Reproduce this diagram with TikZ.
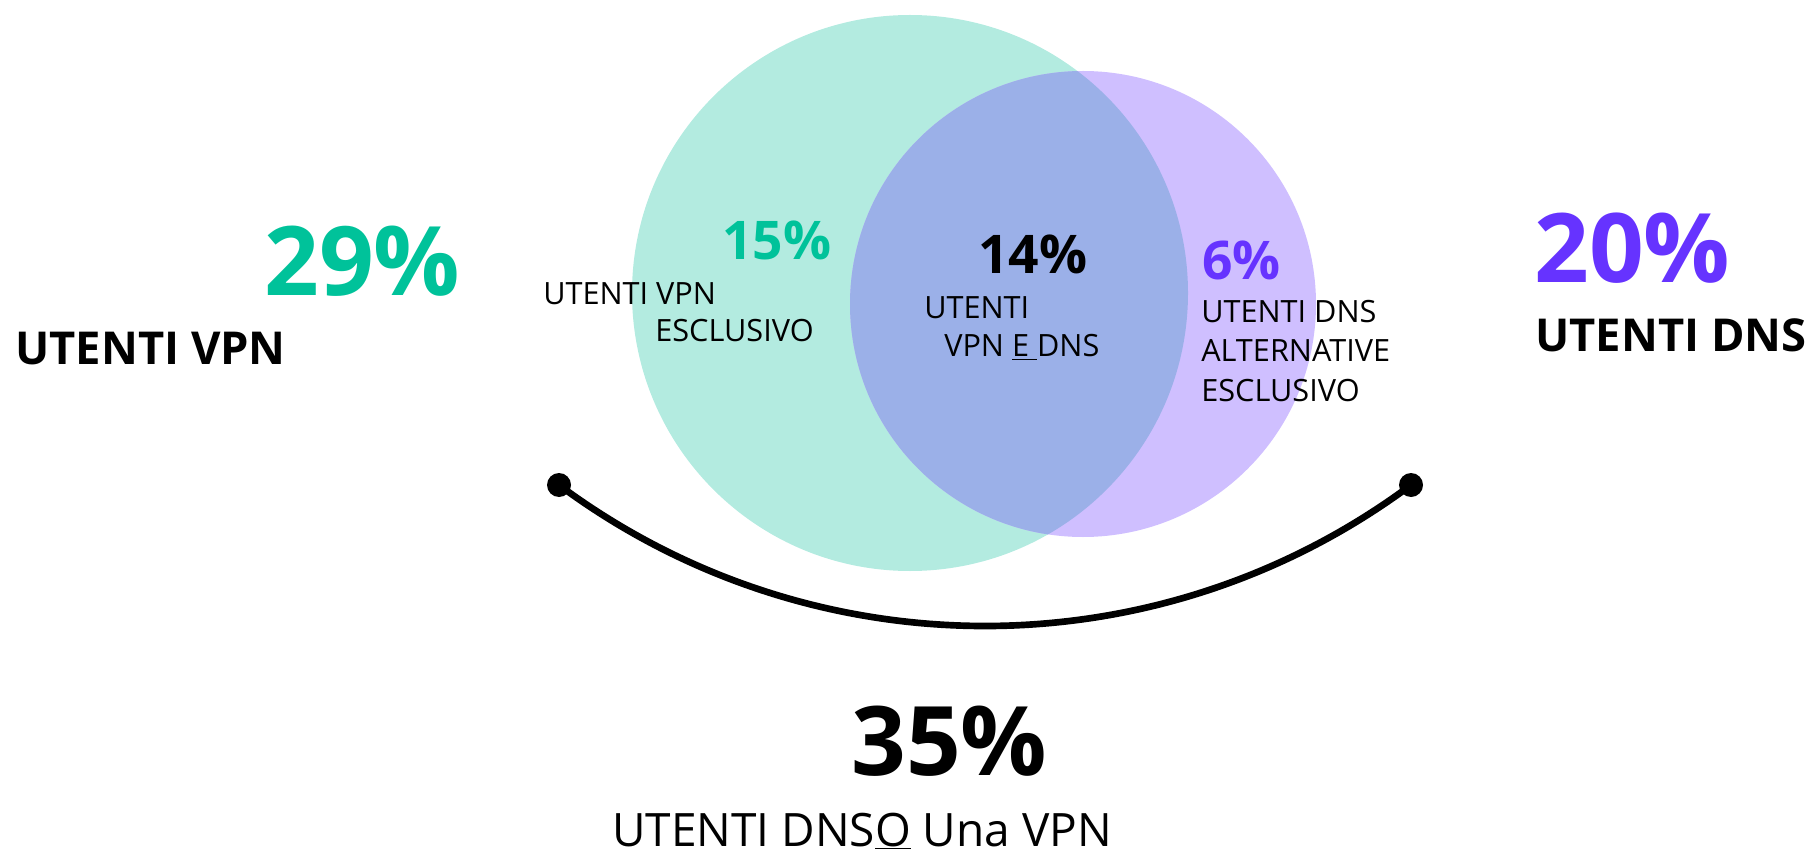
\documentclass[tikz,border=0pt]{standalone}
\usepackage{fontspec}
\setmainfont{Open Sans}
\usetikzlibrary{positioning}
\definecolor{vpngreen}{HTML}{00C29A}
\definecolor{dnspurple}{HTML}{6633FF}
\definecolor{vpnfill}{HTML}{B3EBE0}
\definecolor{dnsfill}{HTML}{CFBFFF}
\definecolor{bothfill}{HTML}{9BB0E8}

\begin{document}
\begin{tikzpicture} %
		[
			x=0.75pt, y=-0.75pt,
			every text node part/.style={align=left}, % lines of a block start flush left
			venn/.style={circle, inner sep=0, minimum size=#1},
			txt/.style={anchor=base west, inner sep=0},
			bignum/.style={txt, font={\fontsize{72}{80}\selectfont\bfseries}},
			bigcap/.style={txt, font={\fontsize{34}{40}\selectfont\bfseries}},
			midnum/.style={txt, font={\fontsize{40}{46}\selectfont\bfseries}},
			small/.style={txt, font={\fontsize{23}{#1}\selectfont}},
			small/.default=27.5,
			dot/.style={circle, fill=black, inner sep=0, minimum size=18pt},
		]
		\useasboundingbox (0,0) rectangle (1810,852);
		
		\node[venn=417pt, fill=vpnfill] (vpn) at (910,293) {};
		\node[venn=349.5pt, fill=dnsfill,
			path picture={\fill[bothfill] (vpn) circle[radius=208.5pt];}]
			(dns) at (1083,304) {};
		
		\node[bignum, text=vpngreen] (vpnpct) at (264,296) {29\%};
		\node[bigcap] (vpntxt) at (15,364) {UTENTI VPN};
		\node[bignum, text=dnspurple] (dnspct) at (1534,283) {20\%};
		\node[bigcap] (dnstxt) at (1535,352) {UTENTI DNS};
		
		% base of a block = base of its last line
		\node[midnum, text=vpngreen] (onlyvpnpct) at (722,260) {15\%};
		\node[small] (onlyvpntxt) at (543,341) {UTENTI VPN\\\hspace*{84pt}ESCLUSIVO};
		\node[midnum] (bothpct) at (978,274) {14\%};
		\node[small=28.5] (bothtxt) at (924,357) {UTENTI\\\hspace*{15pt}VPN \underline{E\ }DNS};
		\node[midnum, text=dnspurple] (onlydnspct) at (1202,280) {6\%};
		\node[small=29.3] (onlydnstxt) at (1201,401)
			{UTENTI DNS\\ALTERNATIVE\\ESCLUSIVO};
		
		\node[dot] (left) at (559,485) {};
		\node[dot] (right) at (1411,485) {};
		\draw[line width=5pt]
			(left.center) .. controls +(253,188) and +(-253,188) .. (right.center);
		
		\node[bignum] (eitherpct) at (851,775) {35\%};
		\node[txt, font={\fontsize{34.5}{40}\selectfont}] (eithertxt) at (612,846)
			{UTENTI DNS\underline{O} Una VPN};
	\end{tikzpicture}
\end{document}
